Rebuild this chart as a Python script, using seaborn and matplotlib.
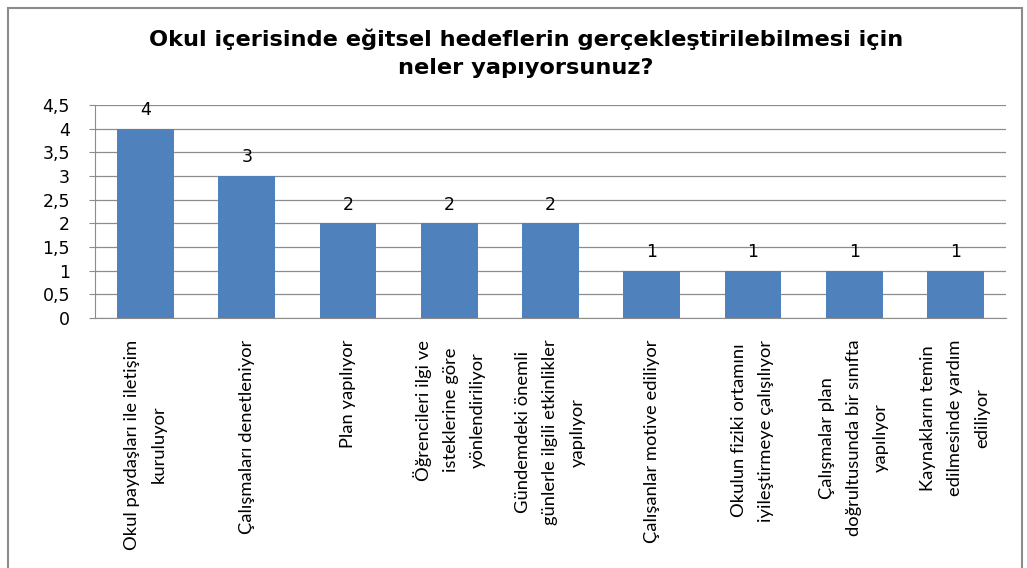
import matplotlib
matplotlib.use("Agg")
import matplotlib.pyplot as plt
import seaborn as sns
import pandas as pd
from matplotlib.patches import Rectangle

title = "Okul içerisinde eğitsel hedeflerin gerçekleştirilebilmesi için\nneler yapıyorsunuz?"
categories = [
    "Okul paydaşları ile iletişim\nkuruluyor",
    "Çalışmaları denetleniyor",
    "Plan yapılıyor",
    "Öğrencileri ilgi ve\nisteklerine göre\nyönlendiriliyor",
    "Gündemdeki önemli\ngünlerle ilgili etkinlikler\nyapılıyor",
    "Çalışanlar motive ediliyor",
    "Okulun fiziki ortamını\niyileştirmeye çalışılıyor",
    "Çalışmalar plan\ndoğrultusunda bir sınıfta\nyapılıyor",
    "Kaynakların temin\nedilmesinde yardım\nediliyor",
]
values = [4, 3, 2, 2, 2, 1, 1, 1, 1]
yticks = [0, 0.5, 1, 1.5, 2, 2.5, 3, 3.5, 4, 4.5]
ytick_labels = ["0", "0,5", "1", "1,5", "2", "2,5", "3", "3,5", "4", "4,5"]

sns.set_style("white")
plt.rcParams['font.family'] = ['DejaVu Sans']
plt.rcParams['text.color'] = 'black'
plt.rcParams['xtick.color'] = 'black'
plt.rcParams['ytick.color'] = 'black'

df = pd.DataFrame({"cat": categories, "val": values})
fig = plt.figure(figsize=(10.27, 5.68), dpi=100)
fig.patches.append(Rectangle((8/1027, -0.01), 1014/1027, 1 - 8/568 + 0.01,
                             transform=fig.transFigure, fill=False,
                             edgecolor="#8c8c8c", linewidth=1.5))
ax = fig.add_axes([95/1027, 1 - 318/568, 911/1027, 213/568])
sns.barplot(data=df, x="cat", y="val", color="#4F81BD", width=0.56,
            saturation=1, ax=ax, edgecolor="none")
ax.set_ylim(0, 4.5)
ax.set_xlim(-0.5, len(categories) - 0.5)
ax.set_yticks(yticks)
ax.set_yticklabels(ytick_labels, fontsize=12.5)
ax.yaxis.grid(True, color="#8c8c8c", linewidth=0.9)
ax.set_axisbelow(True)
for s in ["top", "right"]:
    ax.spines[s].set_visible(False)
for s in ["left", "bottom"]:
    ax.spines[s].set_color("#8c8c8c")
ax.tick_params(axis="y", left=True, length=4, color="#8c8c8c", pad=14)
ax.tick_params(axis="x", bottom=False)
ax.set_xticks(range(len(categories)))
ax.set_xticklabels(categories, rotation=90, fontsize=13.2, family=['Lato', 'DejaVu Sans'],
                   ha="center", va="top", multialignment="center",
                   linespacing=1.85)
ax.tick_params(axis="x", pad=12)
ax.set_xlabel("")
ax.set_ylabel("")
for c in ax.containers:
    ax.bar_label(c, labels=[str(v) for v in values], padding=7, fontsize=12.5)
fig.text(0.512, 1 - 53/568, title, ha="center", va="center", fontsize=16.2,
         fontweight="bold", linespacing=1.5)
fig.savefig("out.png", dpi=100)
